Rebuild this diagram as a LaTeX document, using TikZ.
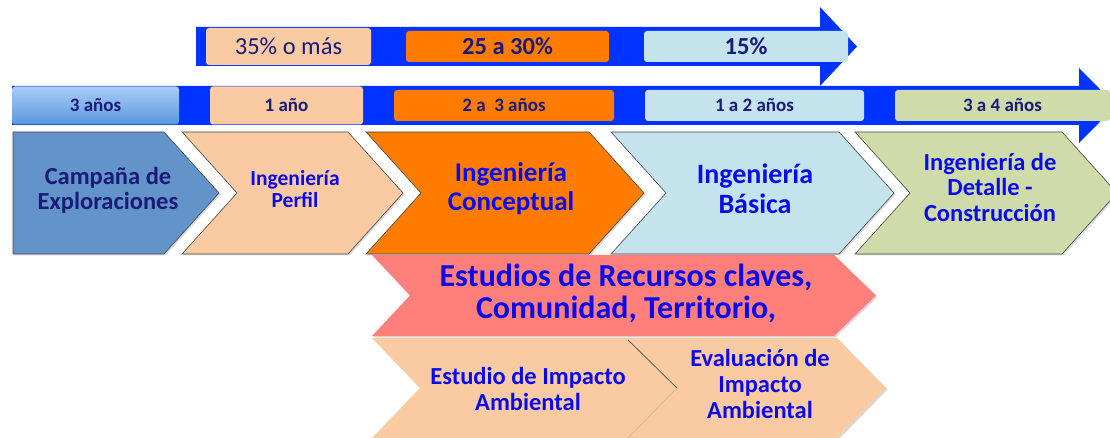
\documentclass[tikz,border=0pt]{standalone}
\usepackage{fontspec}
\setmainfont{Carlito}
\usetikzlibrary{shadows}
\definecolor{barblue}{RGB}{0,51,255}
\definecolor{steel}{RGB}{98,148,201}
\definecolor{skytop}{RGB}{170,204,247}
\definecolor{skybot}{RGB}{88,152,222}
\definecolor{peach}{RGB}{250,203,162}
\definecolor{orng}{RGB}{255,124,0}
\definecolor{pale}{RGB}{196,227,236}
\definecolor{sage}{RGB}{207,220,170}
\definecolor{salmon}{RGB}{255,127,122}
\definecolor{navy}{RGB}{26,26,120}
\definecolor{txtblue}{RGB}{10,10,235}
\tikzset{
  tag/.style={rounded corners=3pt,inner sep=0pt,text=navy,
    font=\bfseries\fontsize{19}{22}\selectfont},
  pct/.style={tag,font=\bfseries\fontsize{24.5}{28}\selectfont},
  chev/.style={draw=gray!55!black,line width=0.6pt,
    drop shadow={opacity=0.3,shadow xshift=1.5pt,shadow yshift=-1.5pt}},
  lbl/.style={align=center,text=txtblue,inner sep=0pt}
}
\begin{document}
\begin{tikzpicture}[x=1pt,y=-1pt]
\clip (0,0) rectangle (1110,438);
% the two time arrows
\fill[barblue] (196,27) -- (820,27) -- (820,7) -- (857,46.5) -- (820,86)
  -- (820,66) -- (196,66) -- cycle;
\fill[barblue] (12,86) -- (1079,86) -- (1079,68) -- (1116,105.5) -- (1079,143)
  -- (1079,125) -- (12,125) -- cycle;
\node[pct,fill=peach,minimum width=165pt,minimum height=37pt,
  font=\fontsize{24.5}{28}\selectfont] (p1) at (288.5,46.5) {35\% o más};
\node[pct,fill=orng,minimum width=203pt,minimum height=31pt] (p2) at (507.5,46.5) {25 a 30\%};
\node[pct,fill=pale,minimum width=204pt,minimum height=31pt] (p3) at (746,46.5) {15\%};
\node[tag,top color=skytop,bottom color=skybot,
  minimum width=167pt,minimum height=38pt] (y1) at (95.5,105.5) {3 años};
\node[tag,fill=peach,minimum width=153pt,minimum height=38pt] (y2) at (286.5,105.5) {1 año};
\node[tag,fill=orng,minimum width=220pt,minimum height=31pt] (y3) at (504,105.5) {2 a\ \ 3 años};
\node[tag,fill=pale,minimum width=219pt,minimum height=31pt] (y4) at (754.5,105.5) {1 a 2 años};
\node[tag,fill=sage,minimum width=215pt,minimum height=31pt] (y5) at (1002.5,105.5) {3 a 4 años};
% phases
\draw[chev,fill=steel] (13,132) -- (164,132) -- (219,193) -- (164,254) -- (13,254) -- cycle;
\draw[chev,fill=peach] (182,132) -- (348,132) -- (403,193) -- (348,254) -- (182,254)
  -- (237,193) -- cycle;
\draw[chev,fill=orng] (366,132) -- (589,132) -- (644,193) -- (589,254) -- (366,254)
  -- (421,193) -- cycle;
\draw[chev,fill=pale] (611,132) -- (839,132) -- (894,193) -- (839,254) -- (611,254)
  -- (666,193) -- cycle;
\draw[chev,fill=sage] (855,132) -- (1062,132) -- (1117,193) -- (1062,254) -- (855,254)
  -- (910,193) -- cycle;
\node[lbl,text=navy,font=\bfseries\fontsize{24.5}{25}\selectfont] (camp) at (108,190)
  {Campaña de\\Exploraciones};
\node[lbl,font=\bfseries\fontsize{21.5}{22}\selectfont] (perf) at (295,189) {Ingeniería\\Perfil};
\node[lbl,font=\bfseries\fontsize{27}{29}\selectfont] (conc) at (511,189) {Ingeniería\\Conceptual};
\node[lbl,font=\bfseries\fontsize{28}{30}\selectfont] (basi) at (755,189) {Ingeniería\\Básica};
\node[lbl,font=\bfseries\fontsize{24.5}{25.5}\selectfont] (deta) at (990,187)
  {Ingeniería de\\Detalle -\\Construcción};
% studies
\draw[chev,draw=none,fill=salmon] (372,255) -- (834,255) -- (876,295.5) -- (834,336)
  -- (372,336) -- (410,295.5) -- cycle;
\draw[chev,draw=none,fill=peach] (372,338) -- (837,338) -- (886,388) -- (837,438)
  -- (372,438) -- (420,388) -- cycle;
\draw[gray!70!black,line width=0.8pt] (628,340) -- (677,388);
\draw[peach!85!black,line width=0.5pt] (677,388) -- (628,438);
\node[lbl,font=\bfseries\fontsize{32}{32}\selectfont] (recu) at (626,293)
  {Estudios de Recursos claves,\\Comunidad, Territorio,};
\node[lbl,font=\bfseries\fontsize{24.5}{26}\selectfont] (eia) at (528,389)
  {Estudio de Impacto\\Ambiental};
\node[lbl,font=\bfseries\fontsize{24.5}{26}\selectfont] (evia) at (760,384)
  {Evaluación de\\Impacto\\Ambiental};
\end{tikzpicture}
\end{document}
